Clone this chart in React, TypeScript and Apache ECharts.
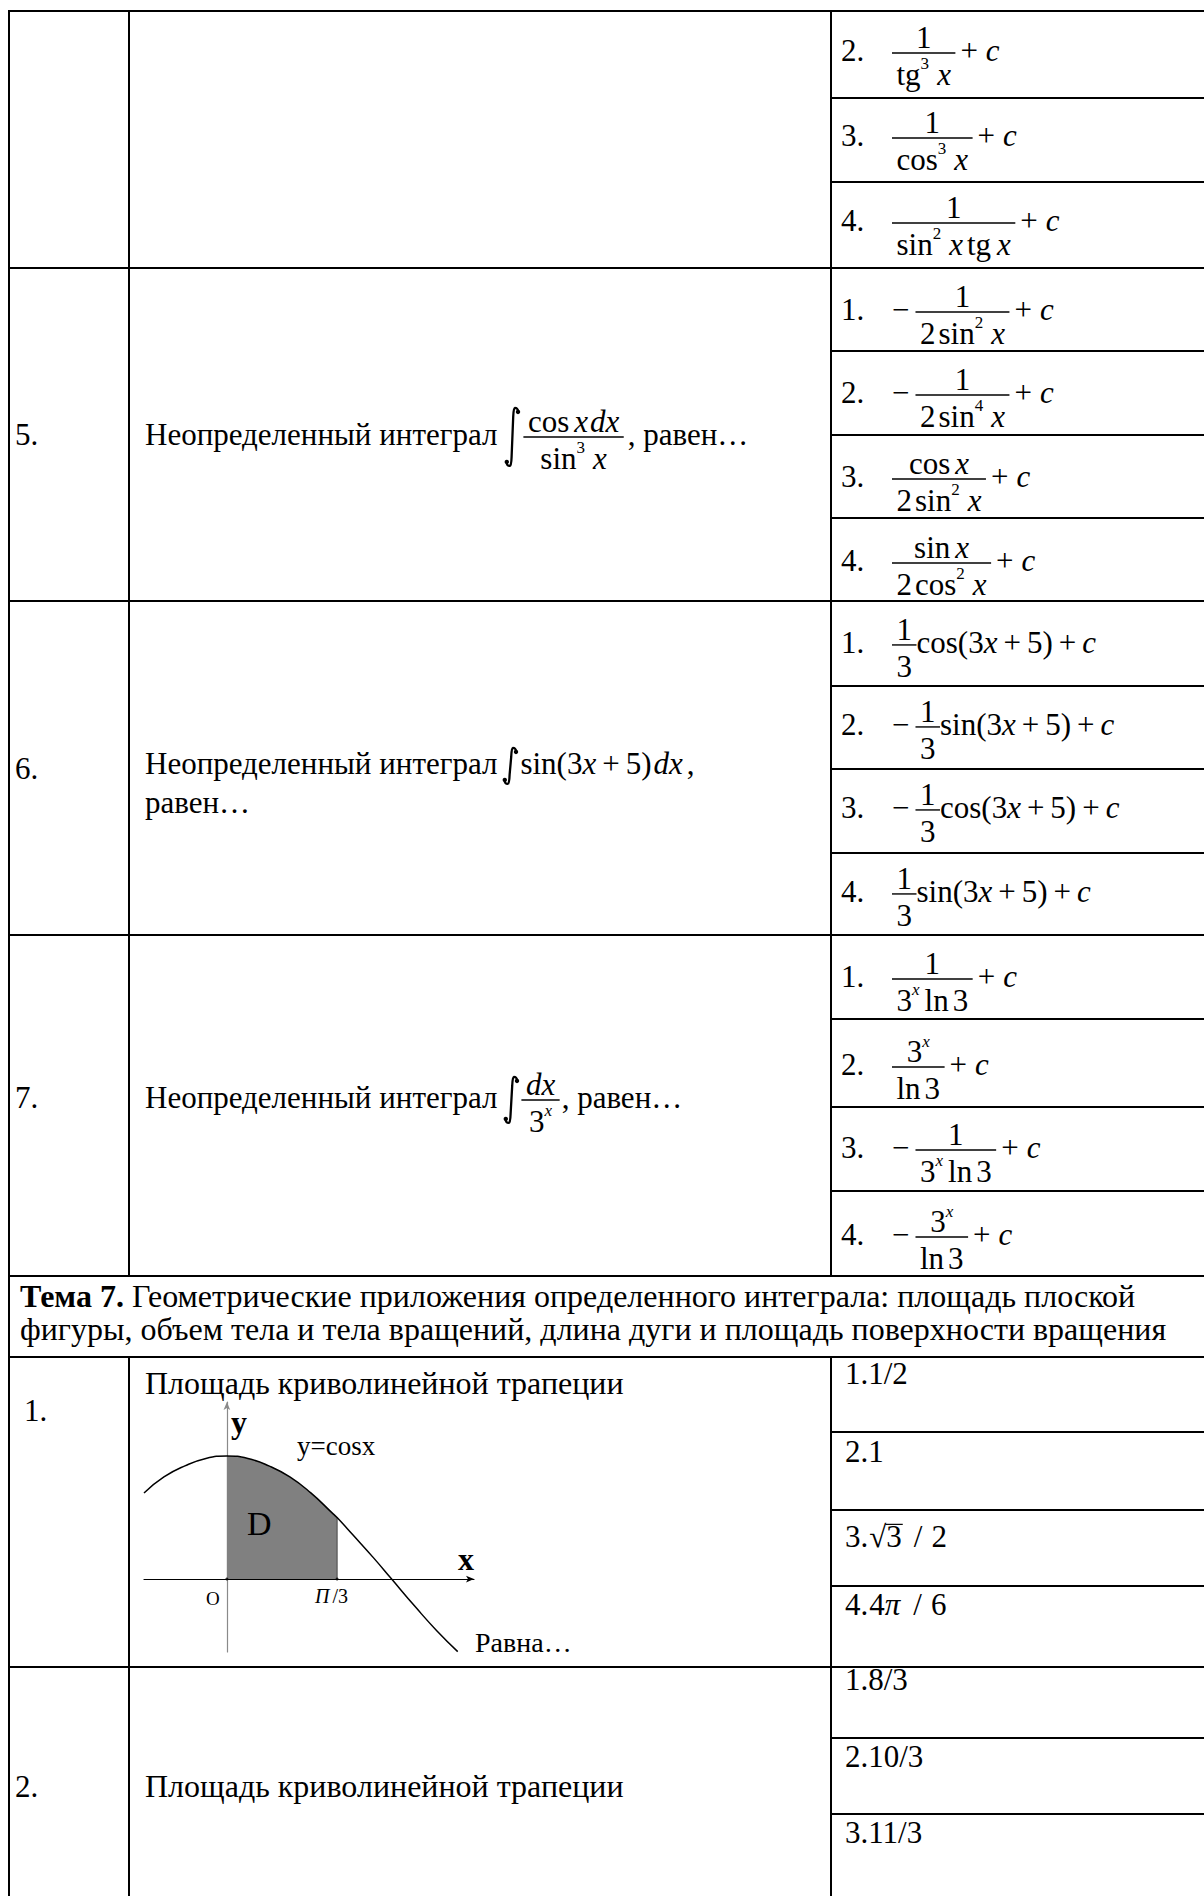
import React, { useEffect, useRef } from 'react';
import * as echarts from 'echarts';

// ---------------- data ----------------
type Tok =
  | { k: 't'; s: string; it?: boolean; b?: boolean; sz?: number; dy?: number }
  | { k: 'sp'; w: number }
  | { k: 'fr'; n: Tok[]; d: Tok[] }
  | { k: 'int'; h: number }
  | { k: 'ov'; s: string };

const u = (s: string): Tok => ({ k: 't', s });
const it = (s: string): Tok => ({ k: 't', s, it: true });
const sup = (s: string, italic = false): Tok => ({ k: 't', s, it: italic, sz: 0.55, dy: 0.5 });
const sp = (w: number): Tok => ({ k: 'sp', w });
const fr = (n: Tok[], d: Tok[]): Tok => ({ k: 'fr', n, d });
const integ = (h: number): Tok => ({ k: 'int', h });
const ov = (s: string): Tok => ({ k: 'ov', s });

const plusC: Tok[] = [sp(5), u('+'), sp(8), it('c')];
const plusC2: Tok[] = [sp(6), u('+'), sp(6), it('c')];
const lin = (fn: string): Tok[] => [u(fn + '(3'), it('x'), sp(6), u('+'), sp(6), u('5)')];
const oneThird = fr([u('1')], [u('3')]);
const threeX: Tok[] = [u('3'), sup('x', true)];
const minus: Tok[] = [u('−'), sp(6)];
const fnPow = (fn: string, p: string): Tok[] => [u(fn), sup(p), sp(8), it('x')];
const ln3: Tok[] = [u('ln'), sp(4), u('3')];

const rowNumbers = ['5.', '6.', '7.', '1.', '2.'];

const questionLines: Tok[][] = [
  [u('Неопределенный интеграл'), sp(7), integ(60), sp(3),
    fr([u('cos'), sp(5), it('x'), sp(2), it('dx')], fnPow('sin', '3')), sp(4), u(', равен…')],
  [u('Неопределенный интеграл'), sp(5), integ(38), sp(2), ...lin('sin'), sp(2), it('dx'), sp(4), u(',')],
  [u('равен…')],
  [u('Неопределенный интеграл'), sp(6), integ(48), sp(2), fr([it('dx')], threeX), sp(2), u(', равен…')],
  [u('Площадь криволинейной трапеции')],
  [u('Площадь криволинейной трапеции')],
];

const answerNumbers = ['2.', '3.', '4.', '1.', '2.', '3.', '4.', '1.', '2.', '3.', '4.', '1.', '2.', '3.', '4.'];
const answerFormulas: Tok[][] = [
  [fr([u('1')], fnPow('tg', '3')), ...plusC],
  [fr([u('1')], fnPow('cos', '3')), ...plusC],
  [fr([u('1')], [...fnPow('sin', '2'), sp(4), u('tg'), sp(6), it('x')]), ...plusC],
  [...minus, fr([u('1')], [u('2'), sp(3), ...fnPow('sin', '2')]), ...plusC],
  [...minus, fr([u('1')], [u('2'), sp(3), ...fnPow('sin', '4')]), ...plusC],
  [fr([u('cos'), sp(5), it('x')], [u('2'), sp(3), ...fnPow('sin', '2')]), ...plusC],
  [fr([u('sin'), sp(5), it('x')], [u('2'), sp(3), ...fnPow('cos', '2')]), ...plusC],
  [oneThird, ...lin('cos'), ...plusC2],
  [...minus, oneThird, ...lin('sin'), ...plusC2],
  [...minus, oneThird, ...lin('cos'), ...plusC2],
  [oneThird, ...lin('sin'), ...plusC2],
  [fr([u('1')], [...threeX, sp(5), ...ln3]), ...plusC],
  [fr(threeX, ln3), ...plusC],
  [...minus, fr([u('1')], [...threeX, sp(5), ...ln3]), ...plusC],
  [...minus, fr(threeX, ln3), ...plusC],
];

const temaAnswers: Tok[][] = [
  [u('1.1/2')],
  [u('2.1')],
  [u('3.'), sp(1), u('√'), ov('3'), sp(12), u('/'), sp(9), u('2')],
  [u('4.'), sp(1), u('4'), it('π'), sp(13), u('/'), sp(9), u('6')],
  [u('1.8/3')],
  [u('2.10/3')],
  [u('3.11/3')],
];

const temaTitleBold = 'Тема 7.';
const temaTitle1 = ' Геометрические приложения определенного интеграла: площадь плоской';
const temaTitle2 = 'фигуры, объем тела и тела вращений, длина дуги и площадь поверхности вращения';

const curveX = [-0.79, -0.6, -0.4, -0.2, 0, 0.2, 0.4, 0.6, 0.8, 1.0, 1.05, 1.2, 1.4, 1.57, 1.8, 2.0, 2.2];
const curveY = [0.70, 0.83, 0.92, 0.98, 1.0, 0.98, 0.92, 0.83, 0.70, 0.54, 0.50, 0.36, 0.17, 0.0, -0.23, -0.42, -0.59];
const shadeRange = [0, 1.05];
const graphLabels = { curve: 'y=cosx', region: 'D', origin: 'O', xName: 'x', yName: 'y', after: 'Равна…' };

// ---------------- layout ----------------
const FAMILY = '"Liberation Serif", "Times New Roman", serif';
const TXT = 31;
const BIG = 32;
const CENTRAL = 0.3375;
const AXIS = 0.26;
const NUM_GAP = 0.15;
const DEN_GAP = 1.03;
const FR_PAD = 4.5;
const INT_W = 16;

const LEFT = 9, COL1 = 129, COL2 = 831, RIGHT = 1204, BOTTOM = 1896;
const ROW_LINES = [11, 268, 601, 935, 1276, 1357, 1667];
const SUB_LINES = [98, 182, 351, 435, 518, 686, 769, 853, 1019, 1107, 1191, 1432, 1510, 1586, 1738, 1814];
const ROW_NUM_POS = [[15, 445], [15, 779], [15, 1108], [24, 1421], [15, 1797]];
const QUESTION_POS = [[145, 445], [145, 774], [145, 813], [145, 1108], [145, 1394], [145, 1797]];
const QUESTION_SIZE = [TXT, TXT, TXT, TXT, BIG, BIG];
const ANSWER_BASE = [61, 146, 231, 320, 403, 487, 571, 653, 735, 818, 902, 987, 1075, 1158, 1245];
const TEMA_BASE = [1384, 1462, 1547, 1615, 1690, 1767, 1843];

function integralPath(h: number) {
  const w = INT_W;
  const m = w / 2;
  return `M${w - 2.2},5 C${w - 2.2},2 ${w - 4},1 ${w - 5.5},1 C${m + 1.5},1 ${m + 1},4 ${m + 0.8},10 L${m - 0.8},${h - 10} C${m - 1},${h - 4} ${m - 1.5},${h - 1} 5.5,${h - 1} C4,${h - 1} 2.2,${h - 2} 2.2,${h - 5}`;
}
[60, 38, 48].forEach((h) => {
  echarts.graphic.registerShape('int' + h, echarts.graphic.extendPath(integralPath(h), {}));
});

let _ctx: CanvasRenderingContext2D | null = null;
function textWidth(s: string, size: number, italic?: boolean, bold?: boolean) {
  if (!_ctx) _ctx = document.createElement('canvas').getContext('2d');
  _ctx!.font = `${italic ? 'italic ' : ''}${bold ? 'bold ' : ''}${size}px "Liberation Serif"`;
  return _ctx!.measureText(s).width;
}

function txt(s: string, x: number, base: number, size: number, italic = false, bold = false): any {
  return {
    type: 'text', x, y: base - CENTRAL * size, z: 100, silent: true,
    style: {
      text: s, fontSize: size, fontFamily: FAMILY,
      fontStyle: italic ? 'italic' : 'normal', fontWeight: bold ? 'bold' : 'normal',
      fill: '#000', align: 'left', verticalAlign: 'middle',
    },
  };
}
function seg(x1: number, y1: number, x2: number, y2: number, w = 2, color = '#000'): any {
  return { type: 'line', z: 100, silent: true, shape: { x1, y1, x2, y2 }, style: { stroke: color, lineWidth: w } };
}

function layout(toks: Tok[], x0: number, base: number, size: number, out: any[] | null): number {
  let x = x0;
  for (const t of toks) {
    if (t.k === 'sp') x += t.w;
    else if (t.k === 't') {
      const fs = size * (t.sz ?? 1);
      if (out) out.push(txt(t.s, x, base - (t.dy ?? 0) * size, fs, !!t.it, !!t.b));
      x += textWidth(t.s, fs, t.it, t.b);
    } else if (t.k === 'fr') {
      const nw = layout(t.n, 0, 0, size, null);
      const dw = layout(t.d, 0, 0, size, null);
      const W = Math.max(nw, dw) + 2 * FR_PAD;
      const bar = base - AXIS * size;
      if (out) {
        out.push(seg(x, bar, x + W, bar, 1.4));
        layout(t.n, x + (W - nw) / 2, bar - NUM_GAP * size, size, out);
        layout(t.d, x + (W - dw) / 2, bar + DEN_GAP * size, size, out);
      }
      x += W;
    } else if (t.k === 'int') {
      if (out) {
        const top = base - AXIS * size - t.h / 2;
        out.push({ type: 'int' + t.h, x, y: top, z: 100, silent: true, style: { fill: 'none', stroke: '#000', lineWidth: 2.3 } });
        out.push({ type: 'circle', z: 100, silent: true, shape: { cx: x + INT_W - 2.4, cy: top + 5, r: 2.2 }, style: { fill: '#000' } });
        out.push({ type: 'circle', z: 100, silent: true, shape: { cx: x + 2.4, cy: top + t.h - 5, r: 2.2 }, style: { fill: '#000' } });
      }
      x += INT_W;
    } else if (t.k === 'ov') {
      const w = textWidth(t.s, size);
      if (out) {
        out.push(txt(t.s, x, base, size));
        out.push(seg(x - 1, base - 0.73 * size, x + w + 1, base - 0.73 * size, 1.2));
      }
      x += w;
    }
  }
  return x - x0;
}

function buildGraphic(): any[] {
  const el: any[] = [];
  // table rules
  ROW_LINES.forEach((y) => el.push(seg(LEFT, y, RIGHT, y)));
  SUB_LINES.forEach((y) => el.push(seg(COL2, y, RIGHT, y)));
  el.push(seg(LEFT, ROW_LINES[0] - 1, LEFT, BOTTOM));
  [COL1, COL2].forEach((x) => {
    el.push(seg(x, ROW_LINES[0] - 1, x, ROW_LINES[4]));
    el.push(seg(x, ROW_LINES[5], x, BOTTOM));
  });
  // row numbers
  rowNumbers.forEach((s, i) => el.push(txt(s, ROW_NUM_POS[i][0], ROW_NUM_POS[i][1], TXT)));
  // questions
  questionLines.forEach((toks, i) => layout(toks, QUESTION_POS[i][0], QUESTION_POS[i][1], QUESTION_SIZE[i], el));
  // answers with formulas
  answerFormulas.forEach((toks, i) => {
    el.push(txt(answerNumbers[i], 841, ANSWER_BASE[i], TXT));
    layout(toks, 892, ANSWER_BASE[i], TXT, el);
  });
  temaAnswers.forEach((toks, i) => layout(toks, 845, TEMA_BASE[i], TXT, el));
  // theme title
  const bw = textWidth(temaTitleBold, BIG, false, true);
  el.push(txt(temaTitleBold, 20, 1307, BIG, false, true));
  el.push(txt(temaTitle1, 20 + bw, 1307, BIG));
  el.push(txt(temaTitle2, 20, 1340, BIG));
  // graph labels
  el.push(txt(graphLabels.yName, 231, 1433, 32, false, true));
  el.push(txt(graphLabels.curve, 297, 1455, 27));
  el.push(txt(graphLabels.region, 247, 1535, 34));
  el.push(txt(graphLabels.xName, 458, 1570, 32, false, true));
  el.push(txt(graphLabels.origin, 206, 1605, 19));
  layout([it('П'), sp(3), u('/'), u('3')], 315, 1603, 20, el);
  el.push(txt(graphLabels.after, 475, 1652, 28));
  return el;
}

function buildOption(): any {
  const curve = curveX.map((x, i) => [x, curveY[i]]);
  const shade = curve.filter((p) => p[0] >= shadeRange[0] && p[0] <= shadeRange[1]);
  const edgeY = curveY[curveX.indexOf(shadeRange[1])];
  return {
    animation: false,
    backgroundColor: '#fff',
    grid: { left: 144, top: 1402, width: 330, height: 250 },
    xAxis: {
      type: 'value', min: -0.79, max: 2.355,
      axisLine: { onZero: true, symbol: ['none', 'arrow'], symbolSize: [5, 8], lineStyle: { color: '#000', width: 1.2 } },
      axisTick: { show: false }, axisLabel: { show: false }, splitLine: { show: false },
    },
    yAxis: {
      type: 'value', min: -0.593, max: 1.439,
      axisLine: { onZero: true, symbol: ['none', 'arrow'], symbolSize: [5, 8], lineStyle: { color: '#8a8a8a', width: 1.2 } },
      axisTick: { show: false }, axisLabel: { show: false }, splitLine: { show: false },
    },
    series: [
      {
        type: 'line', data: shade, smooth: true, symbol: 'none', z: 1,
        lineStyle: { width: 0 }, areaStyle: { color: '#808080', opacity: 1 },
      },
      {
        type: 'line', data: [[shadeRange[1], 0], [shadeRange[1], edgeY]], symbol: 'none', z: 2,
        lineStyle: { color: '#555', width: 1.2 },
      },
      {
        type: 'line', data: curve, smooth: true, symbol: 'none', z: 3,
        lineStyle: { color: '#000', width: 1.5 },
      },
      {
        type: 'scatter', data: [[0, 0], [shadeRange[1], 0]], symbolSize: 3, z: 4,
        itemStyle: { color: '#000' },
      },
    ],
    graphic: { elements: buildGraphic() },
  };
}

export default function App() {
  const ref = useRef<HTMLDivElement>(null);
  useEffect(() => {
    const chart = echarts.init(ref.current!, null, { renderer: 'svg' });
    chart.setOption(buildOption());
    return () => chart.dispose();
  }, []);
  return (
    <div
      ref={ref}
      style={{ position: 'absolute', left: 0, top: 0, width: 1204, height: 1896, background: '#fff' }}
    />
  );
}
